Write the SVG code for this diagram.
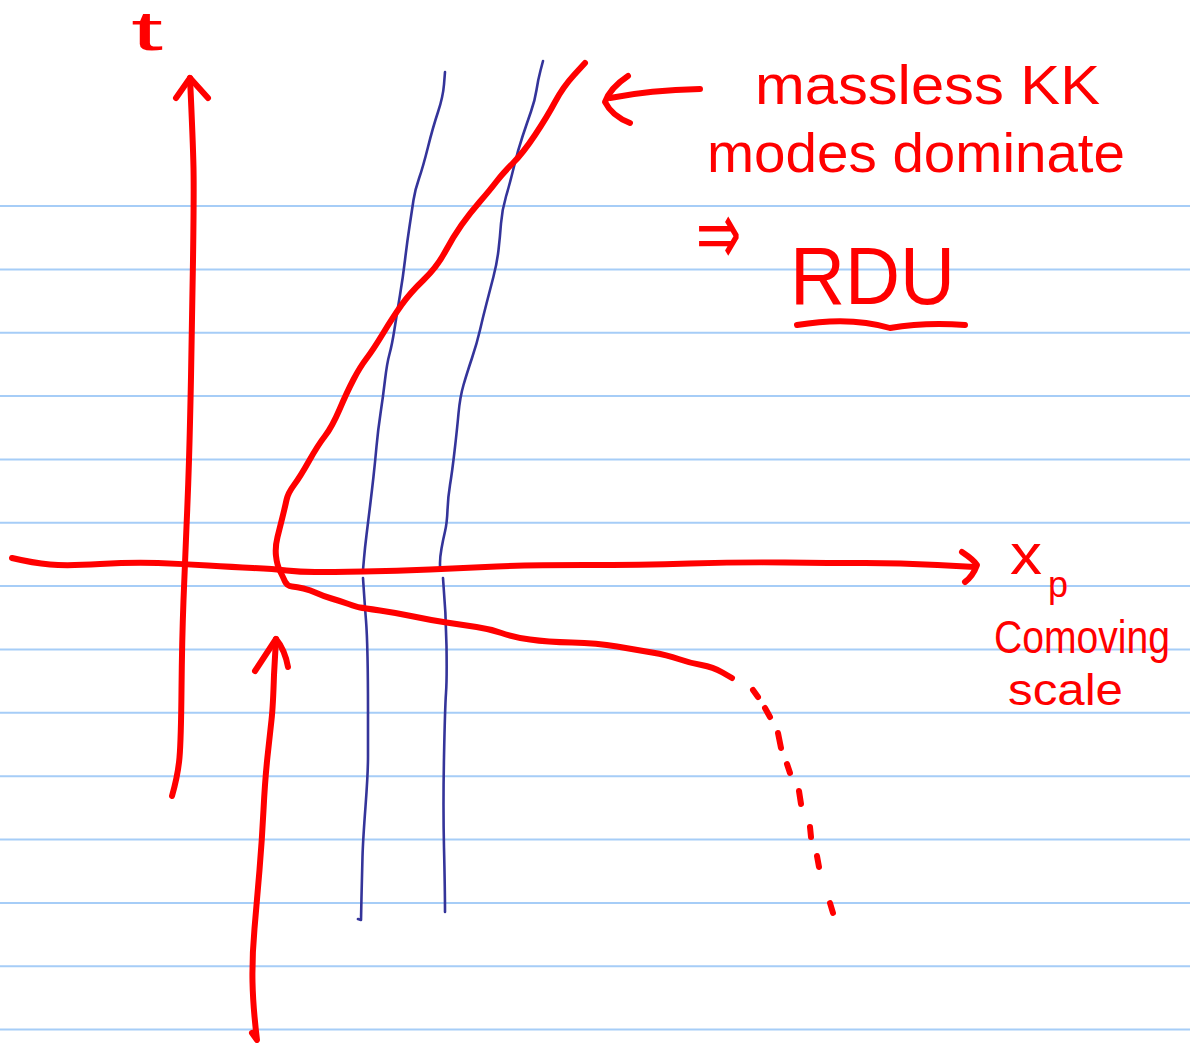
<svg xmlns="http://www.w3.org/2000/svg" width="1190" height="1043" viewBox="0 0 1190 1043">
<style>
.rule{stroke:#a6cdf7;stroke-width:2;fill:none}
.red{stroke:#ff0000;stroke-width:6;fill:none;stroke-linecap:round;stroke-linejoin:round}
.blue{stroke:#34349a;stroke-width:2.6;fill:none;stroke-linecap:round;stroke-linejoin:round}
.txt{fill:#ff0000;font-family:"Liberation Sans","DejaVu Sans",sans-serif}
</style>
<rect width="1190" height="1043" fill="#ffffff"/>
<g id="rules">
<line class="rule" x1="0" y1="206" x2="1190" y2="206"/>
<line class="rule" x1="0" y1="269.4" x2="1190" y2="269.4"/>
<line class="rule" x1="0" y1="332.7" x2="1190" y2="332.7"/>
<line class="rule" x1="0" y1="396" x2="1190" y2="396"/>
<line class="rule" x1="0" y1="459.4" x2="1190" y2="459.4"/>
<line class="rule" x1="0" y1="522.8" x2="1190" y2="522.8"/>
<line class="rule" x1="0" y1="586.1" x2="1190" y2="586.1"/>
<line class="rule" x1="0" y1="649.5" x2="1190" y2="649.5"/>
<line class="rule" x1="0" y1="712.8" x2="1190" y2="712.8"/>
<line class="rule" x1="0" y1="776.2" x2="1190" y2="776.2"/>
<line class="rule" x1="0" y1="839.5" x2="1190" y2="839.5"/>
<line class="rule" x1="0" y1="902.9" x2="1190" y2="902.9"/>
<line class="rule" x1="0" y1="966.2" x2="1190" y2="966.2"/>
<line class="rule" x1="0" y1="1029.6" x2="1190" y2="1029.6"/>
</g>
<g id="worldlines">
<path class="blue" d="M445,72 L444,84.5 Q443,97 438,112 Q433,127 428,147 Q423,167 419,178.5 Q415,190 413.5,200 Q412,210 409.5,226.5 Q407,243 405,260 Q403,277 400,295 Q397,313 394.5,329 Q392,345 389.5,354 Q387,363 385,380 Q383,397 380.5,413.5 Q378,430 376.5,446.5 Q375,463 373.5,476.5 Q372,490 370,506.5 Q368,523 366.5,535 Q365,547 364,558.5 L363,570"/>
<path class="blue" d="M363,578 L364,593 Q365,608 366,620.5 Q367,633 367.5,656.5 Q368,680 368,710 Q368,740 368,756.5 Q368,773 365.5,806.5 Q363,840 362.5,856.5 Q362,873 361.5,896.5 L361,920 L358,919"/>
<path class="blue" d="M543,61 L540.5,70.5 Q538,80 536.5,90 Q535,100 531,111.5 Q527,123 522.5,136.5 Q518,150 514,166.5 Q510,183 506,196.5 Q502,210 501,223.5 Q500,237 498.5,250 Q497,263 493.5,276.5 Q490,290 486.5,303.5 Q483,317 480,330 Q477,343 472,358 Q467,373 463.5,385 Q460,397 458.5,413.5 Q457,430 454.5,451.5 Q452,473 450,485 Q448,497 447.5,510 Q447,523 445,531.5 Q443,540 441.5,548.5 Q440,557 440,563 L440,569"/>
<path class="blue" d="M443,578 Q446,613 446.5,646 Q447,680 446,693 Q445,707 444,757 Q443,807 444,848 Q445,890 445,912"/>
</g>
<g id="axes">
<path class="red" d="M172,796 Q178,775 179.5,757.5 Q181,740 181.5,690 Q182,640 183.5,600 Q185,560 186.5,526.5 Q188,493 189,460 Q190,427 191,377 Q192,327 193,260 Q194,193 193.5,168 Q193,143 190,78"/>
<path class="red" d="M176,98 L190,78 L208,98"/>
<path class="red" d="M12,558 Q33,563 50,564.5 Q67,566 100,564 Q133,562 158,563 Q183,564 208,565.5 Q233,567 253,568 Q273,569 286.5,570.5 Q300,572 315,572 Q330,572 363.5,571.5 Q397,571 430,569.5 Q463,568 496.5,566.5 Q530,565 585,565 Q640,565 690,563.5 Q740,562 785,562.5 Q830,563 865,563 Q900,563 937.5,565 L975,567"/>
<path class="red" d="M962,552 Q974,560 977,565 Q973,576 965,582"/>
<path class="red" d="M252,1033 L257,1040 Q253,1007 252.5,982 Q252,957 254.5,928.5 Q257,900 259.5,870 Q262,840 263.5,810 Q265,780 267.5,756.5 Q270,733 271.5,720 Q273,707 274,675 L276,639"/>
<path class="red" d="M255,671 L276,639 Q285,650 288,667"/>
</g>
<g id="curve">
<path class="red" d="M585,63 L574,75 Q563,87 555,102 Q547,117 535,135 Q523,153 513,163 Q503,173 496.5,181.5 Q490,190 480,201.5 Q470,213 461.5,225 Q453,237 445,252 Q437,267 423.5,280 Q410,293 401.5,305 Q393,317 383,333.5 Q373,350 366.5,358.5 Q360,367 353.5,379.5 Q347,392 339.5,409.5 Q332,427 325,436 Q318,445 309,461 Q300,477 294,485 Q288,493 286.5,500 Q285,507 282.5,517 Q280,527 277.5,537 Q275,547 276,556 Q277,565 280,571 Q283,577 285,581.5 Q287,586 292,586.5 Q297,587 303.5,588.5 Q310,590 316.5,593 Q323,596 331.5,598.5 Q340,601 348.5,604 Q357,607 360,607.5 Q363,608 380,610.5 Q397,613 413.5,616.5 Q430,620 446.5,622.5 Q463,625 476.5,627 Q490,629 501.5,633 Q513,637 530,639.5 Q547,642 572,642.5 Q597,643 617,646.5 Q637,650 652,652.5 Q667,655 678.5,659 Q690,663 701.5,665 Q713,667 722.5,672.5 L732,678"/>
<path class="red" d="M753,690 L758,697 M765,708 L770,717 M778,733 L781,748 M787,764 L790,773 M799,791 L801,804 M810,827 L811,837 M817,856 L819,867 M830,903 L833,913"/>
</g>
<g id="annotations">
<path class="red" d="M700,89 Q650,90 610,98"/>
<path class="red" d="M628,76 Q610,88 605,102 Q612,116 630,123"/>
<path class="red" d="M797,325 Q850,316 890,328 Q925,322 965,325"/>
<text class="txt" x="131" y="50" font-size="56" textLength="32" lengthAdjust="spacingAndGlyphs">t</text>
<text class="txt" x="755" y="104" font-size="56" textLength="345" lengthAdjust="spacingAndGlyphs">massless KK</text>
<text class="txt" x="707" y="172" font-size="56" textLength="418" lengthAdjust="spacingAndGlyphs">modes dominate</text>
<text class="txt" x="0" y="0" font-size="54" transform="translate(696,265) scale(1,1.7)">⇒</text>
<text class="txt" x="790" y="304" font-size="82" textLength="165" lengthAdjust="spacingAndGlyphs">RDU</text>
<text class="txt" x="1010" y="574" font-size="58" textLength="32" lengthAdjust="spacingAndGlyphs">x</text>
<text class="txt" x="1048" y="597" font-size="36">p</text>
<text class="txt" x="0" y="0" font-size="40" textLength="176" lengthAdjust="spacingAndGlyphs" transform="translate(994,653) scale(1,1.15)">Comoving</text>
<text class="txt" x="1008" y="705" font-size="44" textLength="115" lengthAdjust="spacingAndGlyphs">scale</text>
</g>
</svg>
